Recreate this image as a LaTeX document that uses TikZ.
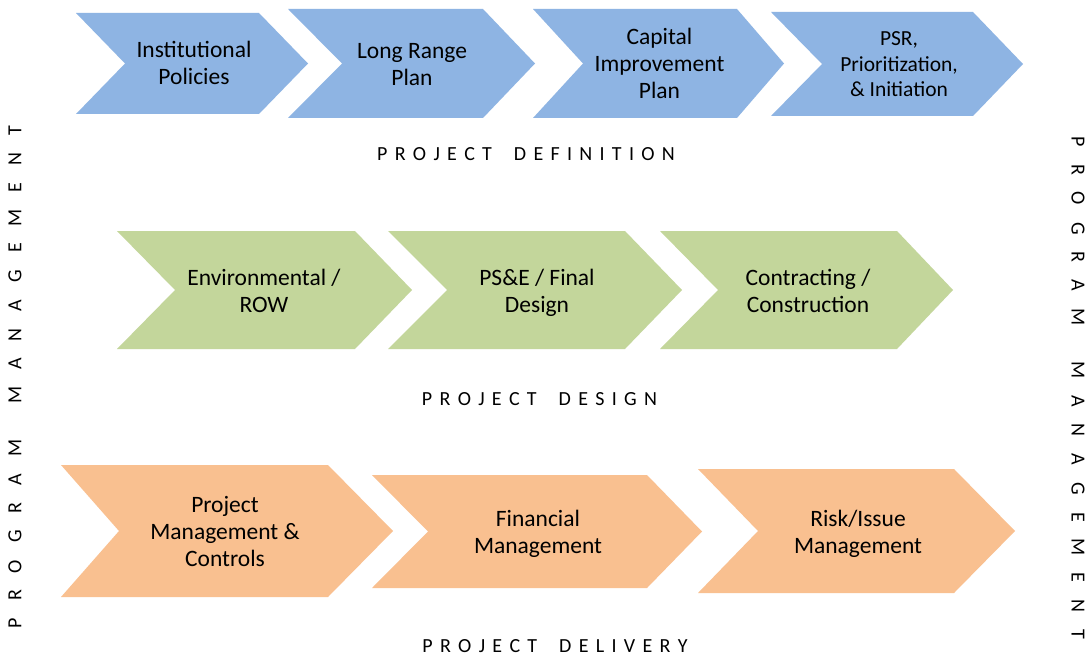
\documentclass[tikz,border=0pt]{standalone}
\usepackage{fontspec}
\setmainfont{Carlito}
\definecolor{cblue}{HTML}{8EB4E3}
\definecolor{cgreen}{HTML}{C3D69B}
\definecolor{corange}{HTML}{F9C090}
\makeatletter
\newcommand\lspaced[2]{\def\lsp@sep{}\@tfor\lsp@c:=#2\do{\lsp@sep\lsp@c\gdef\lsp@sep{\hspace{#1}}}}
\makeatother
% chevron: color, left, notch, right corner, tip, top, bottom, centre
\newcommand\chev[8]{\fill[#1] (#2,#6) -- (#4,#6) -- (#5,#8) -- (#4,#7) -- (#2,#7) -- (#3,#8) -- cycle;}
\tikzset{
  steptext/.style={align=center, inner sep=0pt, font=\fontsize{23.5}{27}\selectfont},
  smalltext/.style={align=center, inner sep=0pt, font=\fontsize{21.5}{25.5}\selectfont},
  phase/.style={inner sep=0pt, anchor=base, font=\fontsize{20}{24}\selectfont},
  side/.style={inner sep=0pt, font=\fontsize{20}{24}\selectfont}
}
\begin{document}
\begin{tikzpicture}[x=1pt,y=-1pt]
\useasboundingbox[fill=white] (0,0) rectangle (1086,655);
% row 1
\chev{cblue}{76}{125}{259}{308}{13}{114}{63.5}
\chev{cblue}{288}{342}{483}{535}{9}{118}{63.5}
\chev{cblue}{533}{583}{737}{784}{9}{118}{63.5}
\chev{cblue}{771}{822}{973}{1023}{12}{116}{64}
\node[steptext] (inst) at (194,63) {Institutional\\Policies};
\node[steptext] (lrp) at (412,65) {Long Range\\Plan};
\node[steptext] (cip) at (659.5,63.5) {Capital\\Improvement\\Plan};
\node[smalltext] (psr) at (899,64.5) {PSR,\\Prioritization,\\\& Initiation};
\node[phase] (def) at (526,161) {\lspaced{7.3pt}{PROJECT}\hspace{22pt}\lspaced{7.3pt}{DEFINITION}};
% row 2
\chev{cgreen}{117}{175}{355}{412}{231}{349}{290}
\chev{cgreen}{388}{447}{625}{682}{231}{349}{290}
\chev{cgreen}{660}{718}{897}{953}{231}{349}{290}
\node[steptext] (env) at (264,291) {Environmental /\\ROW};
\node[steptext] (pse) at (537,293) {PS\&E / Final\\Design};
\node[steptext] (con) at (808,291) {Contracting /\\Construction};
\node[phase] (des) at (539.5,405) {\lspaced{7.3pt}{PROJECT}\hspace{22pt}\lspaced{7.3pt}{DESIGN}};
% row 3
\chev{corange}{61}{119}{328}{393}{465}{597}{531}
\chev{corange}{372}{428}{647}{702}{475}{588}{531.5}
\chev{corange}{698}{758}{954}{1015}{469}{593}{531}
\node[steptext] (pmc) at (225,531) {Project\\Management \&\\Controls};
\node[steptext] (fin) at (538,533.5) {Financial\\Management};
\node[steptext] (risk) at (858,533.5) {Risk/Issue\\Management};
\node[phase] (del) at (555,652) {\lspaced{7.3pt}{PROJECT}\hspace{22pt}\lspaced{7.3pt}{DELIVERY}};
% side labels
\node[side, rotate=90] (pml) at (15,377) {\lspaced{17pt}{PROGRAM}\hspace{36pt}\lspaced{17pt}{MANAGEMENT}};
\node[side, rotate=-90] (pmr) at (1078,388) {\lspaced{17pt}{PROGRAM}\hspace{36pt}\lspaced{17pt}{MANAGEMENT}};
\end{tikzpicture}
\end{document}
